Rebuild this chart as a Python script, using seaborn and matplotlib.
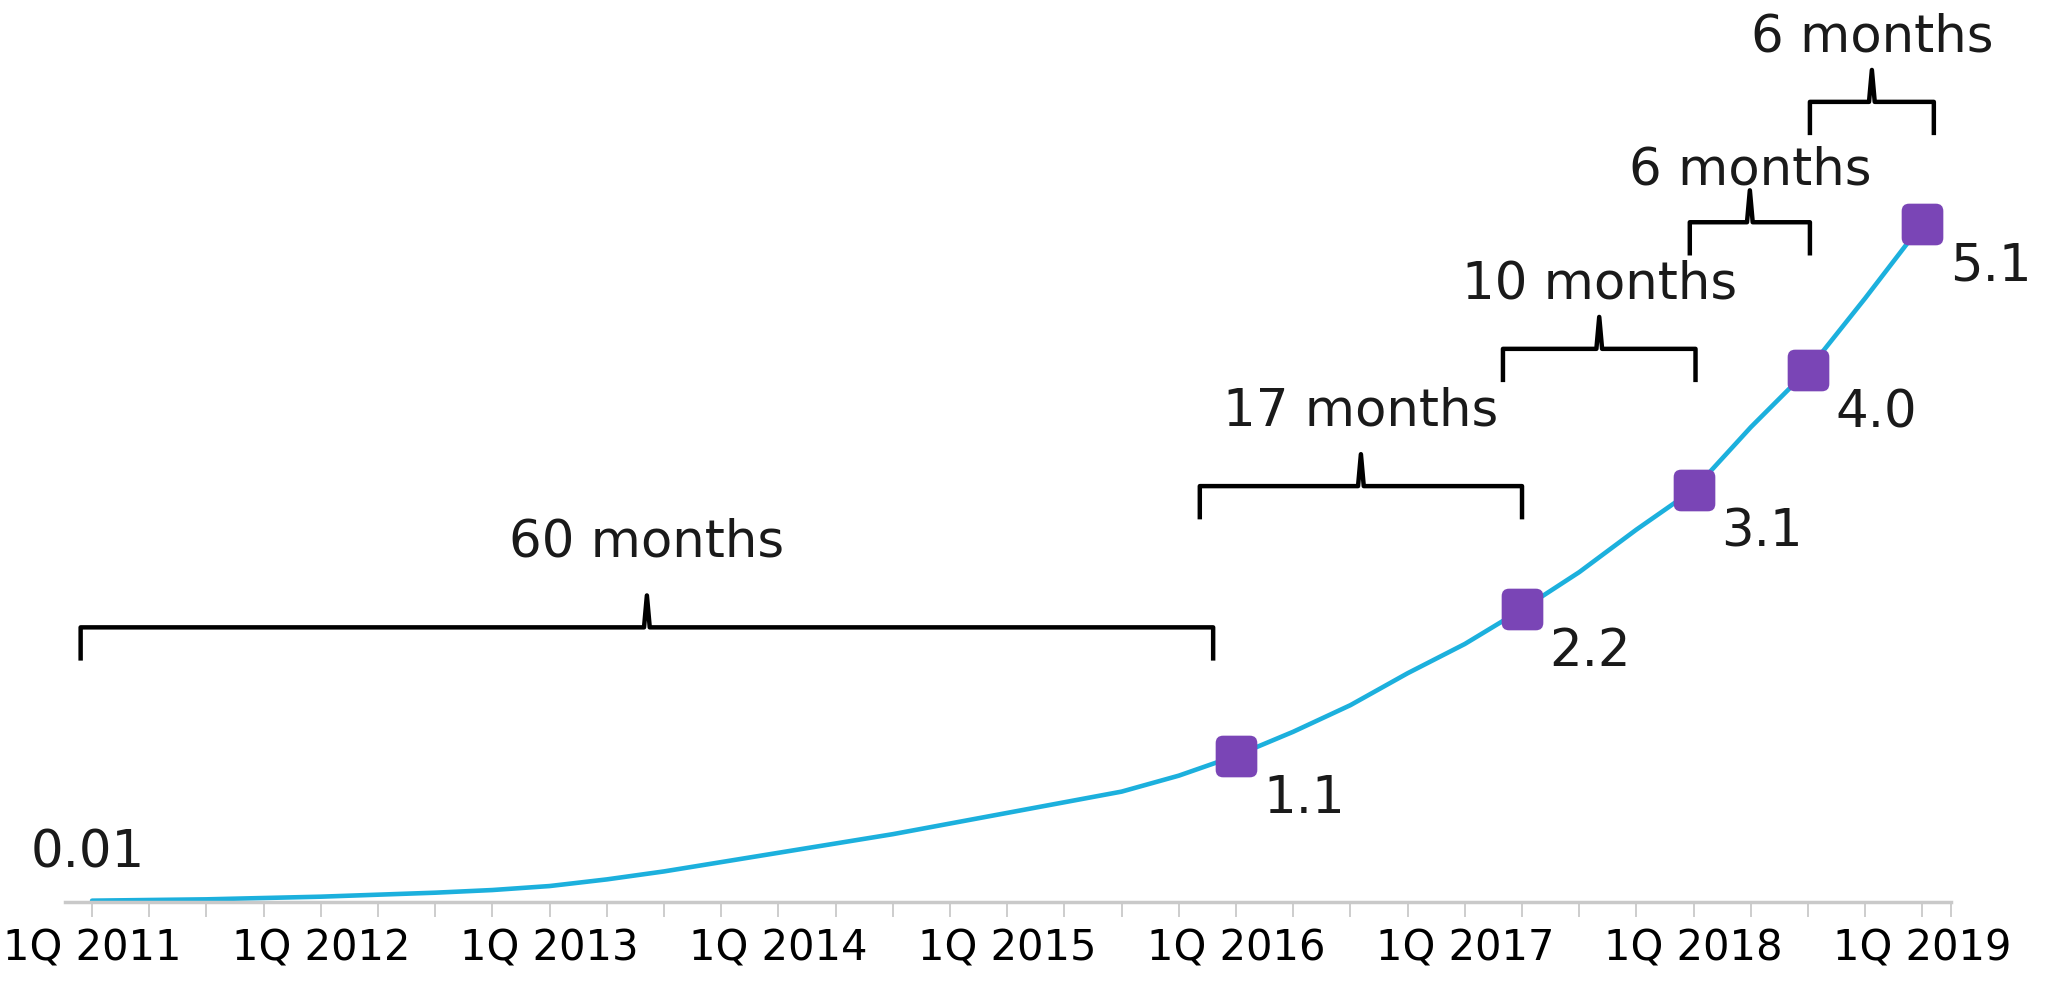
import matplotlib
matplotlib.use("Agg")
import matplotlib.pyplot as plt
from matplotlib.patches import FancyBboxPatch
import seaborn as sns
import pandas as pd

# ---- data (months since 1Q 2011) ----
months = [0, 3, 6, 9, 12, 15, 18, 21, 24, 27, 30, 33, 36, 39, 42, 45, 48, 51, 54, 57,
          60, 63, 66, 69, 72, 75, 78, 81, 84, 87, 90, 93, 96]
values = [0.01, 0.015, 0.02, 0.03, 0.04, 0.055, 0.07, 0.09, 0.12, 0.17, 0.23, 0.30,
          0.37, 0.44, 0.51, 0.59, 0.67, 0.75, 0.83, 0.95,
          1.1, 1.28, 1.48, 1.72, 1.94, 2.2, 2.48, 2.80, 3.1, 3.57, 4.0, 4.54, 5.1]

milestone_months = [60, 75, 84, 90, 96]
milestone_values = [1.1, 2.2, 3.1, 4.0, 5.1]
milestone_labels = ["1.1", "2.2", "3.1", "4.0", "5.1"]
start_label = "0.01"

bracket_labels = ["60 months", "17 months", "10 months", "6 months", "6 months"]

year_ticks = [0, 12, 24, 36, 48, 60, 72, 84, 96]
year_labels = ["1Q 2011", "1Q 2012", "1Q 2013", "1Q 2014", "1Q 2015",
               "1Q 2016", "1Q 2017", "1Q 2018", "1Q 2019"]

# ---- layout of the bracket annotations (as drawn in the reference) ----
bracket_x0 = [-0.6, 58.1, 74.0, 83.8, 90.1]
bracket_x1 = [58.8, 75.0, 84.1, 90.1, 96.6]
bracket_y = [2.065, 3.127, 4.159, 5.111, 6.016]
bracket_text_y = [2.70, 3.69, 4.64, 5.50, 6.50]

# ---- style ----
sns.set_theme(style="white")
plt.rcParams["font.family"] = ["DejaVu Sans"]

LINE_C = "#1cb0dd"
MARK_C = "#7a45b6"
AXIS_C = "#c9c9c9"
TXT = 37

fig = plt.figure(figsize=(20.49, 9.97), dpi=100)
ax = fig.add_axes([65 / 2049, 95 / 997, 1886 / 2049, 902 / 997])

# rounded square marker
rsq = FancyBboxPatch((-0.5, -0.5), 1, 1,
                     boxstyle="round,pad=0,rounding_size=0.18").get_path()

df = pd.DataFrame({"month": months, "value": values})
sns.lineplot(data=df, x="month", y="value", ax=ax, color=LINE_C, linewidth=3.3)
ms = pd.DataFrame({"month": milestone_months, "value": milestone_values})
sns.scatterplot(data=ms, x="month", y="value", ax=ax, marker=rsq, s=900,
                color=MARK_C, edgecolor=MARK_C, linewidth=0, zorder=5)

ax.set_xlim(-1.42, 97.5)
ax.set_ylim(0, 902 / 133)

# milestone value labels
for m, v, lab in zip(milestone_months, milestone_values, milestone_labels):
    ax.annotate(lab, (m, v), xytext=(49, -31), textcoords="offset points",
                ha="center", va="center", fontsize=TXT, color="#1a1a1a")
ax.annotate(start_label, (months[0], values[0]), xytext=(-3, 34),
            textcoords="offset points", ha="center", va="center",
            fontsize=TXT, color="#1a1a1a")

# brackets
arm = 0.25
peak = 0.24
for xs, xe, yh, ty, lab in zip(bracket_x0, bracket_x1, bracket_y,
                               bracket_text_y, bracket_labels):
    xc = (xs + xe) / 2
    ax.plot([xs, xs, xc - 0.15, xc, xc + 0.15, xe, xe],
            [yh - arm, yh, yh, yh + peak, yh, yh, yh - arm],
            color="black", linewidth=3.2, solid_joinstyle="round",
            solid_capstyle="butt")
    ax.text(xc, ty, lab, ha="center", va="center",
            fontsize=TXT, color="#1a1a1a")

# axis styling
sns.despine(ax=ax, left=True, top=True, right=True)
ax.spines["bottom"].set_color(AXIS_C)
ax.spines["bottom"].set_linewidth(2.5)
ax.set_yticks([])
ax.set_ylabel("")
ax.set_xlabel("")
ax.set_xticks(year_ticks)
ax.set_xticklabels(year_labels, fontsize=30, color="black")
ax.set_xticks(list(range(0, 97, 3)) + [97.5], minor=True)
ax.tick_params(axis="x", which="both", direction="out", bottom=True,
               length=11, width=1.3, color=AXIS_C, pad=7)
ax.tick_params(axis="x", which="minor", labelbottom=False)
ax.grid(False)

fig.savefig("out.png", dpi=100, facecolor="white")
